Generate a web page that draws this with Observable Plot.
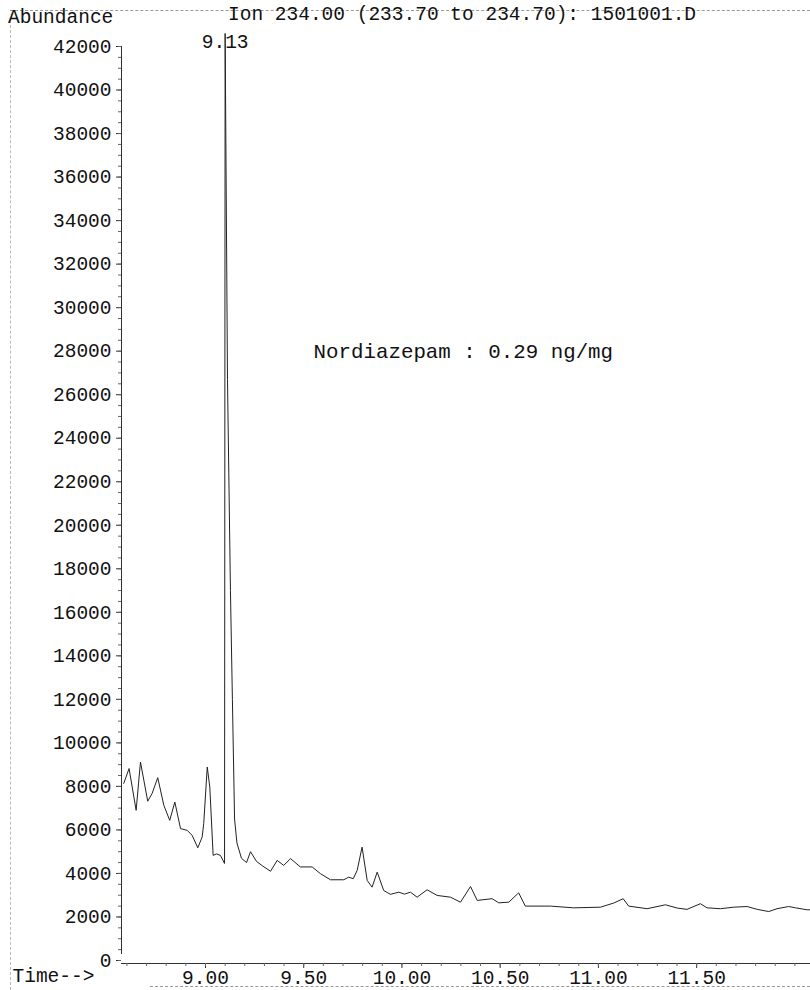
<!DOCTYPE html>
<html><head><meta charset="utf-8">
<script src="https://cdn.jsdelivr.net/npm/d3@7"></script>
<script src="https://cdn.jsdelivr.net/npm/@observablehq/plot@0.6"></script>
<style>
body{margin:0;background:#fff;}
#wrap{position:relative;width:810px;height:990px;overflow:hidden;font-family:"Liberation Mono",monospace;color:#111;background:#fff;}
#header{position:relative;height:30px;}
#header span{position:absolute;font-size:19.5px;white-space:pre;line-height:22px;}
#topline{position:absolute;left:10px;right:0;top:10px;border-top:1px dashed #999;}
#leftline{position:absolute;left:10px;top:20px;bottom:0;border-left:1px dashed #bbb;}
#botline{position:absolute;left:150px;right:0;top:986px;border-top:1px dashed #999;}
</style></head><body>
<div id="wrap">
  <div id="topline"></div><div id="leftline"></div><div id="botline"></div>
  <div id="header">
    <span style="left:8px;top:7px">Abundance</span>
    <span style="left:228px;top:4px">Ion 234.00 (233.70 to 234.70): 1501001.D</span>
  </div>
  <div id="chart"></div>
</div>
<script>
// Retention time (min) and abundance
const times = [8.584, 8.611, 8.647, 8.669, 8.706, 8.728, 8.757, 8.788, 8.818, 8.844,
  8.873, 8.907, 8.932, 8.961, 8.983, 8.991, 9.009, 9.022, 9.039, 9.056,
  9.076, 9.097, 9.100, 9.112, 9.127, 9.137, 9.148, 9.160, 9.183, 9.209,
  9.229, 9.260, 9.290, 9.331, 9.365, 9.398, 9.433, 9.483, 9.543, 9.585,
  9.636, 9.704, 9.729, 9.752, 9.772, 9.797, 9.823, 9.848, 9.874, 9.907,
  9.941, 9.984, 10.013, 10.043, 10.077, 10.128, 10.179, 10.247, 10.298, 10.349,
  10.383, 10.459, 10.493, 10.544, 10.594, 10.628, 10.756, 10.874, 11.010, 11.078,
  11.126, 11.154, 11.248, 11.341, 11.401, 11.451, 11.519, 11.553, 11.621, 11.689,
  11.757, 11.808, 11.867, 11.909, 11.968, 12.003, 12.062, 12.079];
const abundance = [8140, 8820, 6900, 9120, 7320, 7670, 8400, 7130, 6440, 7280,
  6060, 5980, 5750, 5180, 5670, 6290, 8890, 7970, 4830, 4900,
  4830, 4460, 42600, 26700, 17000, 12000, 6500, 5400, 4700, 4500,
  5000, 4550, 4350, 4100, 4600, 4370, 4680, 4300, 4300, 3990,
  3710, 3710, 3830, 3760, 4140, 5210, 3680, 3370, 4060, 3220,
  3040, 3140, 3050, 3140, 2910, 3250, 2990, 2910, 2680, 3400,
  2760, 2840, 2650, 2680, 3110, 2500, 2500, 2420, 2450, 2640,
  2840, 2500, 2380, 2560, 2410, 2350, 2610, 2420, 2380, 2450,
  2480, 2350, 2250, 2380, 2480, 2420, 2330, 2330];

const xDomain = [8.5725, 12.0795];
const yDomain = [0, 42000];
const yTicks = d3.range(0, 42001, 2000);
const yMinor = d3.range(0, 42001, 500);
const xTicks = [9.0, 9.5, 10.0, 10.5, 11.0, 11.5];
const xMinor = d3.range(8.6, 12.05, 0.1).map(d => +d.toFixed(1));

const peakTime = [9.100];
const peakLabel = ["9.13"];
const noteTime = [9.55];
const noteValue = [28000];
const noteText = ["Nordiazepam : 0.29 ng/mg"];
const xLabel = ["Time-->"];

const FS = 19.5;
const ink = "#111";

const chart = Plot.plot({
  width: 810,
  height: 960,
  marginLeft: 121,
  marginRight: 0,
  marginTop: 16,
  marginBottom: 30,
  style: {fontFamily: "'Liberation Mono', monospace", fontSize: FS + "px", color: ink, background: "#fff", overflow: "visible"},
  x: {domain: xDomain},
  y: {domain: yDomain},
  marks: [
    Plot.ruleX([xDomain[0]], {stroke: "#333", strokeWidth: 1, y1: yDomain[0], y2: yDomain[1], insetTop: -6}),
    Plot.ruleY([0], {dy: 3, stroke: "#333", strokeWidth: 1}),
    Plot.axisY({ticks: yTicks, tickSize: 5, tickPadding: 5, tickFormat: d => String(d), label: null, fontSize: FS, stroke: "#333"}),
    Plot.axisY({ticks: yMinor, tickSize: 3, tickFormat: () => "", label: null, stroke: "#666"}),
    Plot.axisX({ticks: xTicks, tickSize: 5, tickPadding: 2, dy: 3, tickFormat: d3.format(".2f"), label: null, fontSize: FS, stroke: "#333"}),
    Plot.axisX({ticks: xMinor, tickSize: 3, dy: 3, tickFormat: () => "", label: null, stroke: "#666"}),
    Plot.line(abundance, {x: times, y: abundance, stroke: "#222", strokeWidth: 1}),
    Plot.text(peakLabel, {x: peakTime, y: [yDomain[1]], text: d => d, dy: -5, textAnchor: "middle", fontSize: FS, fill: ink}),
    Plot.text(noteText, {x: noteTime, y: noteValue, text: d => d, textAnchor: "start", fontSize: 20.8, fill: ink}),
    Plot.text(xLabel, {frameAnchor: "bottom-left", text: d => d, dx: -109, dy: 21, textAnchor: "start", fontSize: FS, fill: ink})
  ]
});
document.getElementById("chart").appendChild(chart);
</script>
</body></html>
